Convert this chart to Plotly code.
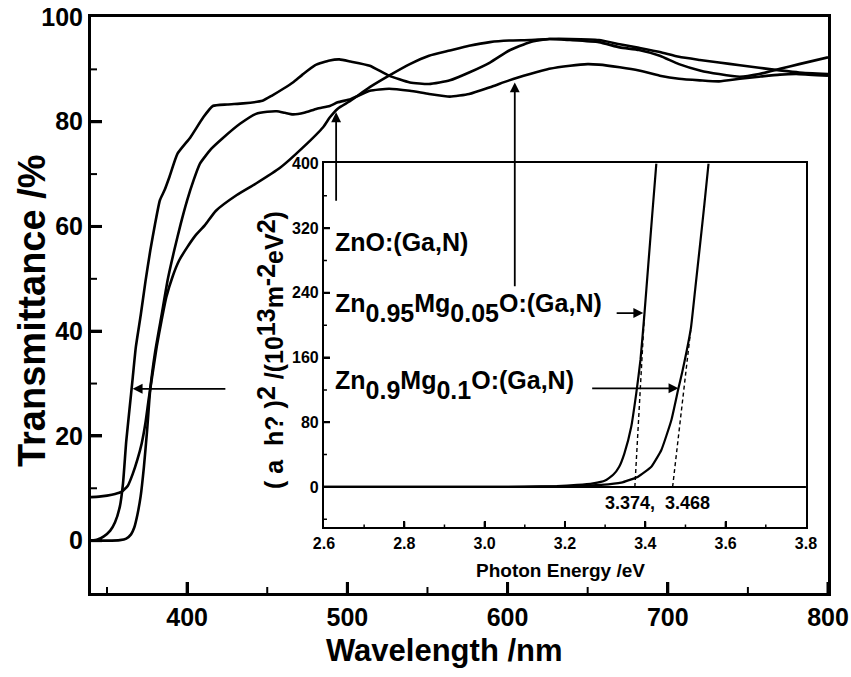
import plotly.graph_objects as go

FONT = "Liberation Sans, Arial, sans-serif"

# ---- transmittance spectra (wavelength in nm, transmittance in %) ----
wl_a = [340, 344, 348, 352, 355, 358, 360, 362, 364, 366, 368, 371, 374, 377, 380, 383,
        386, 389, 394, 402, 410, 416, 425, 435, 447, 453, 460, 466, 472, 480, 489, 495,
        502, 514, 526, 539, 551, 564, 576, 589, 601, 614, 626, 639, 657, 670, 682, 695,
        707, 720, 732, 745, 757, 770, 782, 800]
t_a = [0.0, 0.2, 0.8, 1.9, 3.5, 6.5, 11, 19, 25, 31, 37, 43, 49.5, 55.4, 60.5, 65,
       67, 69.5, 73.9, 77, 80.8, 83, 83.3, 83.5, 84, 85, 86.3, 87.5, 89, 90.8, 91.7, 91.9,
       91.5, 90.7, 88.8, 87.5, 87.2, 87.9, 89.4, 91.3, 93.6, 95.2, 95.8, 95.6, 95.2, 94.2, 93.7, 92.6,
       91.0, 89.8, 89.1, 88.6, 89.1, 90.1, 91.0, 92.3]

wl_b = [340, 350, 358, 362, 365, 367, 369, 371, 373, 375, 377, 380, 384, 388, 392, 396,
        400, 404, 408, 415, 422, 433, 443, 450, 456, 461, 466, 473, 481, 489, 494, 502,
        514, 526, 539, 551, 564, 576, 589, 601, 614, 626, 639, 650, 657, 670, 682, 695,
        707, 720, 732, 745, 757, 770, 782, 800]
t_b = [0.0, 0.0, 0.1, 0.4, 1.2, 2.5, 5, 8.5, 14, 21, 29, 36, 43, 50, 55.5, 60.5,
       65, 68.8, 72, 74.8, 76.8, 79.6, 81.5, 81.9, 82, 81.7, 81.4, 81.7, 82.5, 83.0, 83.7, 84.3,
       85.9, 86.3, 85.9, 85.3, 84.8, 85.3, 86.6, 87.9, 89.1, 90.1, 90.7, 91.0, 90.9, 90.4, 89.8, 88.8,
       88.2, 87.9, 87.7, 88.2, 88.6, 89.0, 89.1, 88.8]

wl_c = [340, 345, 350, 355, 359, 363, 366, 369, 371.6, 374, 376, 378, 381, 384, 387, 391,
        395, 400, 405, 411, 418, 431, 443, 458, 472, 485, 489, 494, 502, 514, 526, 539,
        551, 564, 576, 589, 601, 614, 626, 639, 657, 670, 682, 695, 707, 720, 732, 745,
        757, 770, 782, 800]
t_c = [8.3, 8.4, 8.6, 8.9, 9.3, 10.5, 12.7, 15.5, 18.5, 22.5, 27, 31, 37, 42, 46.5, 50.5,
       53.5, 56, 58.2, 60.2, 63, 66, 68.2, 71.2, 75, 79, 80.8, 82.5, 84, 86.6, 88.8, 91,
       92.6, 93.6, 94.5, 95.2, 95.5, 95.6, 95.8, 95.8, 95.6, 94.8, 94.1, 93.3, 92.4, 91.8, 91.3, 90.8,
       90.3, 89.8, 89.4, 89.1]

# ---- (alpha h nu)^2 versus photon energy (eV, 10^13 m^-2 eV^2) ----
e_1 = [2.6, 2.8, 3.0, 3.1, 3.18, 3.23, 3.27, 3.30, 3.32, 3.335, 3.348, 3.365, 3.3775,
       3.388, 3.398, 3.4075, 3.417, 3.4275]
v_1 = [0, 0, 0, 0.4, 1.2, 2.5, 4.5, 8, 15, 25, 41.6, 74.5, 115.8,
       157, 215, 275, 335, 400]

e_2 = [2.6, 3.0, 3.1, 3.2, 3.25, 3.29, 3.34, 3.382, 3.415, 3.44, 3.465, 3.4825, 3.492,
       3.503, 3.514, 3.525, 3.536, 3.547, 3.5575]
v_2 = [0, 0, 0.2, 0.8, 1.6, 2.5, 5.3, 12.7, 25, 45.7, 82.8, 122, 142,
       168, 198, 248, 298, 349, 400]

# linear extrapolations to the band gaps
gap_1 = [3.374, 3.398]
gap_1_v = [0, 215]
gap_2 = [3.468, 3.514]
gap_2_v = [0, 198]
base_e = [2.6, 3.8]
base_v = [0, 0]

# tick positions
main_x_major = [400, 500, 600, 700, 800]
main_x_minor = [350, 450, 550, 650, 750]
main_y_major = [0, 20, 40, 60, 80, 100]
main_y_minor = [-10, 10, 30, 50, 70, 90]
inset_x_major = [2.6, 2.8, 3.0, 3.2, 3.4, 3.6, 3.8]
inset_x_minor = [2.7, 2.9, 3.1, 3.3, 3.5, 3.7]
inset_y_major = [0, 80, 160, 240, 320, 400]
inset_y_minor = [-40, 40, 120, 200, 280, 360]

MAIN_X = [340, 800]
MAIN_Y = [-10, 100]
INSET_X = [2.6, 3.8]
INSET_Y = [-50, 400]
DOM_X2 = [0.3161, 0.9701]
DOM_Y2 = [0.1139, 0.7458]

W, H = 851, 677
ML, MR, MT, MB = 91, 23, 17, 84
PLOT_W = W - ML - MR
PLOT_H = H - MT - MB

fig = go.Figure()

for wl, t in ((wl_a, t_a), (wl_b, t_b), (wl_c, t_c)):
    fig.add_trace(go.Scatter(x=wl, y=t, mode="lines", xaxis="x", yaxis="y",
                             line=dict(color="black", width=2.6, shape="spline", smoothing=0.5),
                             hoverinfo="skip", showlegend=False))

fig.add_trace(go.Scatter(x=base_e, y=base_v, mode="lines", xaxis="x2", yaxis="y2",
                         line=dict(color="black", width=2), hoverinfo="skip", showlegend=False))
for e, v in ((e_1, v_1), (e_2, v_2)):
    fig.add_trace(go.Scatter(x=e, y=v, mode="lines", xaxis="x2", yaxis="y2",
                             line=dict(color="black", width=2.2, shape="spline", smoothing=0.4),
                             hoverinfo="skip", showlegend=False))
for e, v in ((gap_1, gap_1_v), (gap_2, gap_2_v)):
    fig.add_trace(go.Scatter(x=e, y=v, mode="lines", xaxis="x2", yaxis="y2",
                             line=dict(color="black", width=1.4, dash="4px,3px"),
                             hoverinfo="skip", showlegend=False))

tick_main = dict(family=FONT, size=25, color="black", weight="bold")
tick_inset = dict(family=FONT, size=16, color="black", weight="bold")

common = dict(zeroline=False, showgrid=False, automargin=False,
              ticks="inside", tickcolor="black",
              showline=True, linecolor="black", mirror=True)

fig.update_layout(
    width=W, height=H,
    margin=dict(l=ML, r=MR, t=MT, b=MB, autoexpand=False),
    paper_bgcolor="white", plot_bgcolor="white",
    showlegend=False,
    xaxis=dict(range=MAIN_X, tickvals=main_x_major, ticklen=11, tickwidth=3, linewidth=3,
               tickfont=tick_main, **common),
    yaxis=dict(range=MAIN_Y, tickvals=main_y_major, ticklen=11, tickwidth=3, linewidth=3,
               tickfont=tick_main, **common),
    xaxis2=dict(domain=DOM_X2, anchor="y2", range=INSET_X, tickvals=inset_x_major,
                tickformat=".1f", ticklen=6, tickwidth=2, linewidth=2, tickfont=tick_inset,
                **common),
    yaxis2=dict(domain=DOM_Y2, anchor="x2", range=INSET_Y, tickvals=inset_y_major,
                ticklen=6, tickwidth=2, linewidth=2, tickfont=tick_inset, **common),
)

# inward tick marks, lengths given in pixels and converted to axis units
main_dx = (MAIN_X[1] - MAIN_X[0]) / PLOT_W
main_dy = (MAIN_Y[1] - MAIN_Y[0]) / PLOT_H
inset_dx = (INSET_X[1] - INSET_X[0]) / (PLOT_W * (DOM_X2[1] - DOM_X2[0]))
inset_dy = (INSET_Y[1] - INSET_Y[0]) / (PLOT_H * (DOM_Y2[1] - DOM_Y2[0]))

shapes = []


def xticks(vals, length_px, width, xr, yr, y_lo, dy):
    for v in vals:
        shapes.append(dict(type="line", xref=xr, yref=yr, x0=v, x1=v,
                           y0=y_lo, y1=y_lo + length_px * dy,
                           line=dict(color="black", width=width), layer="above"))


def yticks(vals, length_px, width, xr, yr, x_lo, dx):
    for v in vals:
        shapes.append(dict(type="line", xref=xr, yref=yr, y0=v, y1=v,
                           x0=x_lo, x1=x_lo + length_px * dx,
                           line=dict(color="black", width=width), layer="above"))


xticks(main_x_major, 11, 3, "x", "y", MAIN_Y[0], main_dy)
xticks(main_x_minor, 6, 2, "x", "y", MAIN_Y[0], main_dy)
yticks(main_y_major[:-1], 11, 3, "x", "y", MAIN_X[0], main_dx)
yticks(main_y_minor[1:], 6, 2, "x", "y", MAIN_X[0], main_dx)
xticks(inset_x_major[1:-1], 6, 2, "x2", "y2", INSET_Y[0], inset_dy)
xticks(inset_x_minor, 3, 1.5, "x2", "y2", INSET_Y[0], inset_dy)
yticks(inset_y_major[:-1], 6, 2, "x2", "y2", INSET_X[0], inset_dx)
yticks(inset_y_minor, 3, 1.5, "x2", "y2", INSET_X[0], inset_dx)

ytitle_font = dict(family=FONT, size=38, color="black", weight="bold")
xtitle_font = dict(family=FONT, size=31, color="black", weight="bold")
label_font = dict(family=FONT, size=25, color="black", weight="bold")
small_font = dict(family=FONT, size=19, color="black", weight="bold")
inset_title_font = dict(family=FONT, size=25, color="black", weight="bold")


def sub(s):
    return '<span style="baseline-shift:-10px">' + s + '</span>'


def sup(s):
    return '<span style="baseline-shift:8px">' + s + '</span>'


annotations = [
    dict(text="Transmittance /%", xref="paper", yref="paper", x=-0.080, y=0.4896,
         textangle=-90, showarrow=False, font=ytitle_font, xanchor="center", yanchor="middle"),
    dict(text="Wavelength /nm", xref="paper", yref="paper", x=0.479, y=-0.099,
         showarrow=False, font=xtitle_font, xanchor="center", yanchor="middle"),
    dict(text="Photon Energy /eV", xref="paper", yref="paper", x=0.6364, y=0.0399,
         showarrow=False, font=small_font, xanchor="center", yanchor="middle"),
    dict(text="( a  h? )" + sup("2") + " /(10" + sup("13") + "m" + sup("-2") + "eV"
         + sup("2") + ")",
         xref="paper", yref="paper", x=0.2429, y=0.4219, textangle=-90,
         showarrow=False, font=inset_title_font, xanchor="center", yanchor="middle"),
    dict(text="ZnO:(Ga,N)", xref="paper", yref="paper", x=0.3284, y=0.6094,
         showarrow=False, font=label_font, xanchor="left", yanchor="middle"),
    dict(text="Zn" + sub("0.95") + "Mg" + sub("0.05") + "O:(Ga,N)", xref="paper",
         yref="paper", x=0.3284, y=0.4948, showarrow=False, font=label_font,
         xanchor="left", yanchor="middle"),
    dict(text="Zn" + sub("0.9") + "Mg" + sub("0.1") + "O:(Ga,N)", xref="paper",
         yref="paper", x=0.3284, y=0.3611, showarrow=False, font=label_font,
         xanchor="left", yanchor="middle"),
    dict(text="3.374,  3.468", xref="paper", yref="paper", x=0.768, y=0.15625,
         showarrow=False, font=dict(family=FONT, size=18, color="black", weight="bold"),
         xanchor="center", yanchor="middle"),
]

# arrows linking the labels to the curves: (head x, head y, tail x, tail y, axes)
arrows = [
    (493.0, 81.8, 493.0, 64.6, "x", "y"),
    (604.5, 87.5, 604.5, 48.3, "x", "y"),
    (366.0, 29.0, 424.8, 29.0, "x", "y"),
    (3.395, 215.0, 3.325, 215.0, "x2", "y2"),
    (3.4825, 122.0, 3.264, 122.0, "x2", "y2"),
]
for hx, hy, tx, ty, xr, yr in arrows:
    annotations.append(dict(x=hx, y=hy, ax=tx, ay=ty, xref=xr, yref=yr, axref=xr, ayref=yr,
                            text="", showarrow=True, arrowhead=2, arrowsize=1.1,
                            arrowwidth=1.8, arrowcolor="black", standoff=0))

fig.update_layout(annotations=annotations, shapes=shapes)

fig.write_html("out.html")
